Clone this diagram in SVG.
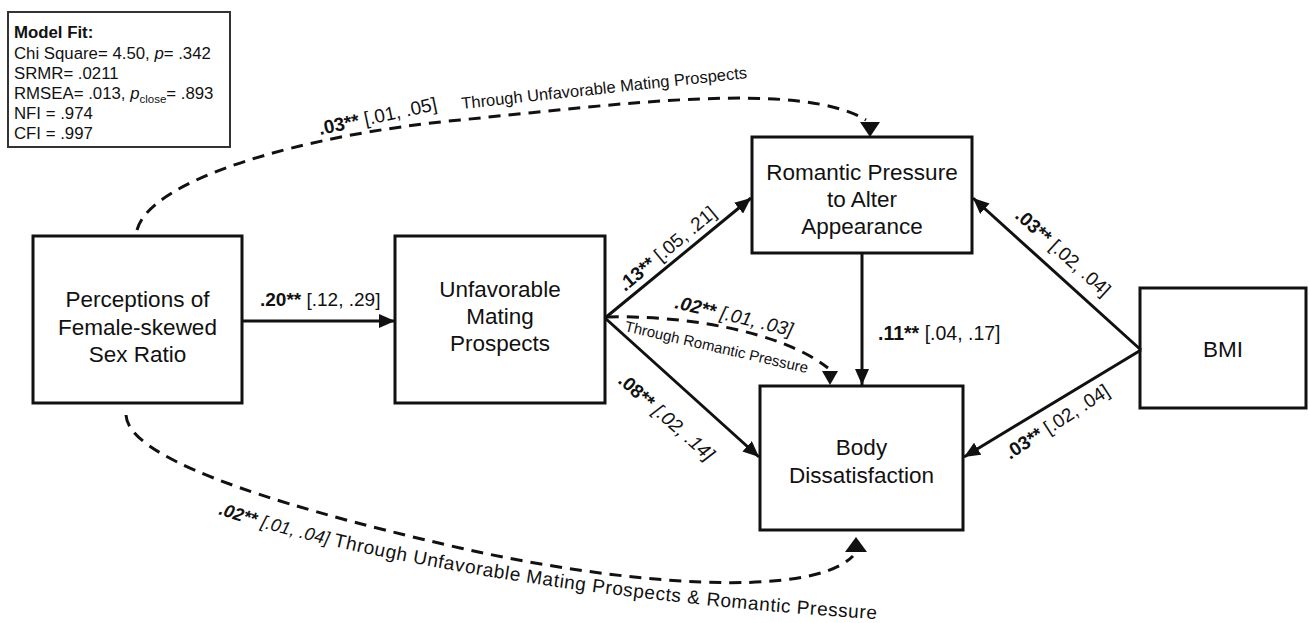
<svg xmlns="http://www.w3.org/2000/svg" width="1309" height="623" viewBox="0 0 1309 623">
<defs>
<style>
text{font-family:"Liberation Sans",Arial,Helvetica,sans-serif;fill:#111}
.box{fill:#fff;stroke:#111;stroke-width:3}
.fit{fill:#fff;stroke:#333;stroke-width:2}
.node{font-size:22.5px;text-anchor:middle}
.ln{fill:none;stroke:#111;stroke-width:3}
.dash{fill:none;stroke:#111;stroke-width:3;stroke-dasharray:12 8}
.lbl{font-size:19px}
.b{font-weight:bold}
.i{font-style:italic}
.head{fill:#111}
.mf{font-size:16.8px}
</style>
<marker id="ah" markerUnits="userSpaceOnUse" markerWidth="17" markerHeight="14" refX="16" refY="7" orient="auto">
<path d="M0,0 L16,7 L0,14 z" fill="#111"/>
</marker>
<path id="bottomPath" d="M218,514 C330,552 560,600 890,620"/>
</defs>

<g id="model-fit">
<rect class="fit" x="8" y="12" width="222" height="135"/>
<text x="14" y="38" class="mf b">Model Fit:</text>
<text x="14" y="58.5" class="mf">Chi Square= 4.50, <tspan class="i">p</tspan>= .342</text>
<text x="14" y="79" class="mf">SRMR= .0211</text>
<text x="14" y="99" class="mf">RMSEA= .013, <tspan class="i">p</tspan><tspan font-size="11.5" dy="4">close</tspan><tspan dy="-4">= .893</tspan></text>
<text x="14" y="119" class="mf">NFI = .974</text>
<text x="14" y="139" class="mf">CFI = .997</text>
</g>

<g id="node-perceptions">
<rect class="box" x="33" y="236" width="209" height="167"/>
<text class="node" x="137.5" y="307">Perceptions of</text>
<text class="node" x="137.5" y="335">Female-skewed</text>
<text class="node" x="137.5" y="362">Sex Ratio</text>
</g>

<g id="node-unfavorable">
<rect class="box" x="395" y="236" width="210" height="167"/>
<text class="node" x="500" y="297">Unfavorable</text>
<text class="node" x="500" y="324">Mating</text>
<text class="node" x="500" y="351">Prospects</text>
</g>

<g id="node-romantic">
<rect class="box" x="752" y="137" width="220" height="116"/>
<text class="node" x="862" y="180">Romantic Pressure</text>
<text class="node" x="862" y="207">to Alter</text>
<text class="node" x="862" y="234">Appearance</text>
</g>

<g id="node-body">
<rect class="box" x="760" y="386" width="203" height="144"/>
<text class="node" x="861.5" y="455">Body</text>
<text class="node" x="861.5" y="483">Dissatisfaction</text>
</g>

<g id="node-bmi">
<rect class="box" x="1140" y="288" width="166" height="120"/>
<text class="node" x="1223" y="357">BMI</text>
</g>

<g id="connectors">
<path class="ln" d="M242,321 L395,321" marker-end="url(#ah)"/>
<path class="ln" d="M605,318 L751,198" marker-end="url(#ah)"/>
<path class="ln" d="M605,318 L759,457" marker-end="url(#ah)"/>
<path class="ln" d="M862,254 L862,385" marker-end="url(#ah)"/>
<path class="ln" d="M1141,350 L973,198" marker-end="url(#ah)"/>
<path class="ln" d="M1141,350 L964,457" marker-end="url(#ah)"/>

<path class="dash" d="M137,230 C150,180 300,135 460,120 C620,104 800,80 866,120"/>
<polygon class="head" points="860,122 880,122 870,137"/>
<path class="dash" d="M607,317 C680,315 780,330 828,368"/>
<polygon class="head" points="822,371 838,371 830,385"/>
<path class="dash" d="M126,415 C128,455 250,500 460,548 C620,584 810,600 853,556"/>
<polygon class="head" points="845,552 867,552 856,537"/>

<text class="lbl" x="260" y="306" font-size="18"><tspan class="b">.20**</tspan> [.12, .29]</text>
<text x="878" y="340" font-size="19.5"><tspan class="b">.11**</tspan> [.04, .17]</text>
<text class="lbl" transform="translate(625,292) rotate(-39.7)"><tspan class="b">.13**</tspan> [.05, .21]</text>
<text class="lbl" transform="translate(617,382) rotate(41.5)"><tspan class="b">.08**</tspan> <tspan class="i">[.02, .14]</tspan></text>
<text class="lbl" transform="translate(1014,217) rotate(42)"><tspan class="b">.03**</tspan> [.02, .04]</text>
<text class="lbl" transform="translate(1010,460) rotate(-33)"><tspan class="b">.03**</tspan> [.02, .04]</text>
<text class="lbl i" transform="translate(674,308) rotate(13.5)"><tspan class="b">.02**</tspan> [.01, .03]</text>
<text font-size="15" transform="translate(624,331) rotate(13)">Through Romantic Pressure</text>
<text class="lbl" font-size="18" transform="translate(320,135) rotate(-12)"><tspan class="b">.03**</tspan> [.01, .05]</text>
<text font-size="16.5" transform="translate(462,109) rotate(-6.2)">Through Unfavorable Mating Prospects</text>
<text font-size="19" letter-spacing="0.6"><textPath href="#bottomPath"><tspan class="b i" font-size="18" letter-spacing="0">.02**</tspan><tspan class="i" font-size="18" letter-spacing="0"> [.01, .04]</tspan> Through Unfavorable Mating Prospects &amp; Romantic Pressure</textPath></text>
</g>
</svg>
